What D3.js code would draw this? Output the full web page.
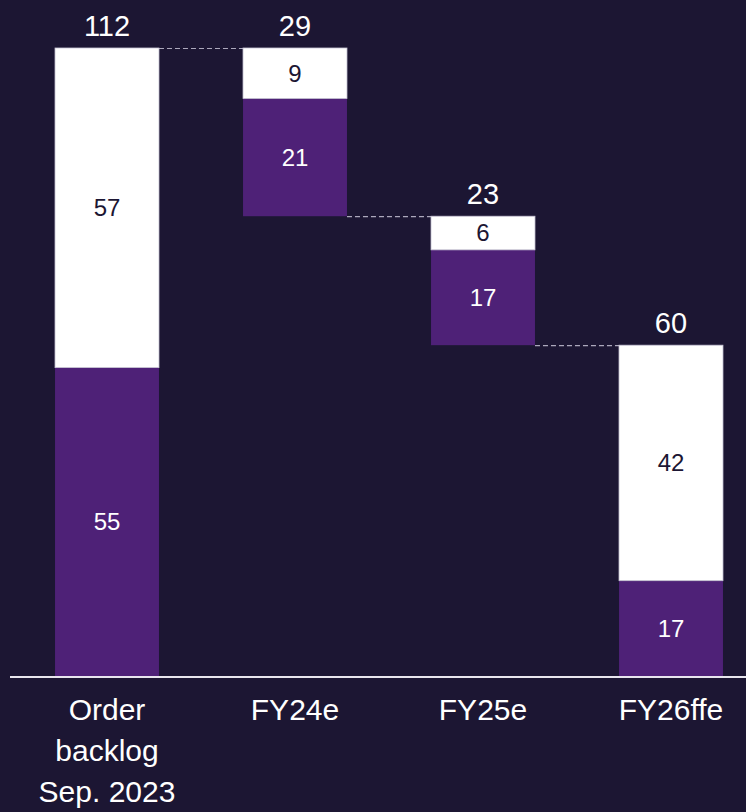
<!DOCTYPE html>
<html>
<head>
<meta charset="utf-8">
<script src="https://cdn.jsdelivr.net/npm/d3@7"></script>
<style>
  html, body { margin: 0; padding: 0; background: #1c1633; }
  svg { display: block; font-family: "Liberation Sans", Arial, sans-serif; }
</style>
</head>
<body>
<svg id="chart" width="746" height="812"></svg>
<script>
// ***** Data *****
const categories = ["Order backlog Sep. 2023", "FY24e", "FY25e", "FY26ffe"];
const categoryLines = [["Order", "backlog", "Sep. 2023"], ["FY24e"], ["FY25e"], ["FY26ffe"]];
const barKind = ["total", "decrease", "decrease", "total"];
const whiteValues = [57, 9, 6, 42];
const purpleValues = [55, 21, 17, 17];
const totalLabels = [112, 29, 23, 60];

const bgColor = "#1c1633";
const purple = "#4e2177";

const width = 746, height = 812;
const svg = d3.select("#chart");
svg.append("rect").attr("width", width).attr("height", height).attr("fill", bgColor);

// ***** Scales *****
const xScale = d3.scaleBand()
  .domain(categories)
  .range([13, 765])
  .paddingInner(0.447)
  .paddingOuter(0.2235);

const yScale = d3.scaleLinear().domain([0, 112]).range([676, 48]);

// ***** Build waterfall steps *****
let running = 0;
const steps = categories.map(function(c, i) {
  const size = whiteValues[i] + purpleValues[i];
  let base;
  if (barKind[i] === "total") {
    base = 0;
    running = size;
  } else {
    base = running - size;
    running = base;
  }
  return {
    cat: c,
    base: base,
    top: base + size,
    white: whiteValues[i],
    purple: purpleValues[i],
    label: totalLabels[i]
  };
});

// ***** Connectors *****
// dashed line from the end level of one bar to the start of the next
const connectors = svg.append("g");
steps.slice(0, -1).forEach(function(d, i) {
  const next = steps[i + 1];
  const level = barKind[i] === "decrease" ? d.base : d.top;
  connectors.append("line")
    .attr("x1", xScale(d.cat) + xScale.bandwidth())
    .attr("x2", xScale(next.cat))
    .attr("y1", yScale(level) + 0.5)
    .attr("y2", yScale(level) + 0.5)
    .attr("stroke", "#aca8bc")
    .attr("stroke-width", 1.2)
    .attr("stroke-dasharray", "5,3");
});

// ***** Bars *****
const groups = svg.selectAll(".bar").data(steps).enter().append("g").attr("class", "bar");

groups.append("rect")
  .attr("x", d => xScale(d.cat))
  .attr("width", xScale.bandwidth())
  .attr("y", d => yScale(d.base + d.purple))
  .attr("height", d => yScale(d.base) - yScale(d.base + d.purple))
  .attr("fill", purple);

groups.append("rect")
  .attr("x", d => xScale(d.cat))
  .attr("width", xScale.bandwidth())
  .attr("y", d => yScale(d.top))
  .attr("height", d => yScale(d.base + d.purple) - yScale(d.top))
  .attr("fill", "#ffffff")
  .attr("stroke", "#c9c5d6")
  .attr("stroke-width", 0.8);

// segment labels
groups.append("text")
  .attr("x", d => xScale(d.cat) + xScale.bandwidth() / 2)
  .attr("y", d => (yScale(d.base) + yScale(d.base + d.purple)) / 2)
  .attr("dy", "0.35em")
  .attr("text-anchor", "middle")
  .attr("font-size", 24)
  .attr("fill", "#ffffff")
  .text(d => d.purple);

groups.append("text")
  .attr("x", d => xScale(d.cat) + xScale.bandwidth() / 2)
  .attr("y", d => (yScale(d.top) + yScale(d.base + d.purple)) / 2)
  .attr("dy", "0.35em")
  .attr("text-anchor", "middle")
  .attr("font-size", 24)
  .attr("fill", bgColor)
  .text(d => d.white);

// total labels above
groups.append("text")
  .attr("x", d => xScale(d.cat) + xScale.bandwidth() / 2)
  .attr("y", d => yScale(d.top) - 12)
  .attr("text-anchor", "middle")
  .attr("font-size", 29)
  .attr("fill", "#ffffff")
  .text(d => d.label);

// ***** Axis *****
svg.append("line")
  .attr("x1", 10).attr("x2", width)
  .attr("y1", yScale(0) + 1).attr("y2", yScale(0) + 1)
  .attr("stroke", "#e8e6ee")
  .attr("stroke-width", 2);

const axisLabels = svg.append("g");
categories.forEach(function(c, i) {
  const t = axisLabels.append("text")
    .attr("x", xScale(c) + xScale.bandwidth() / 2)
    .attr("y", 720)
    .attr("text-anchor", "middle")
    .attr("font-size", 30)
    .attr("fill", "#ffffff");
  categoryLines[i].forEach(function(line, j) {
    t.append("tspan")
      .attr("x", xScale(c) + xScale.bandwidth() / 2)
      .attr("dy", j === 0 ? 0 : 41)
      .text(line);
  });
});
</script>
</body>
</html>
